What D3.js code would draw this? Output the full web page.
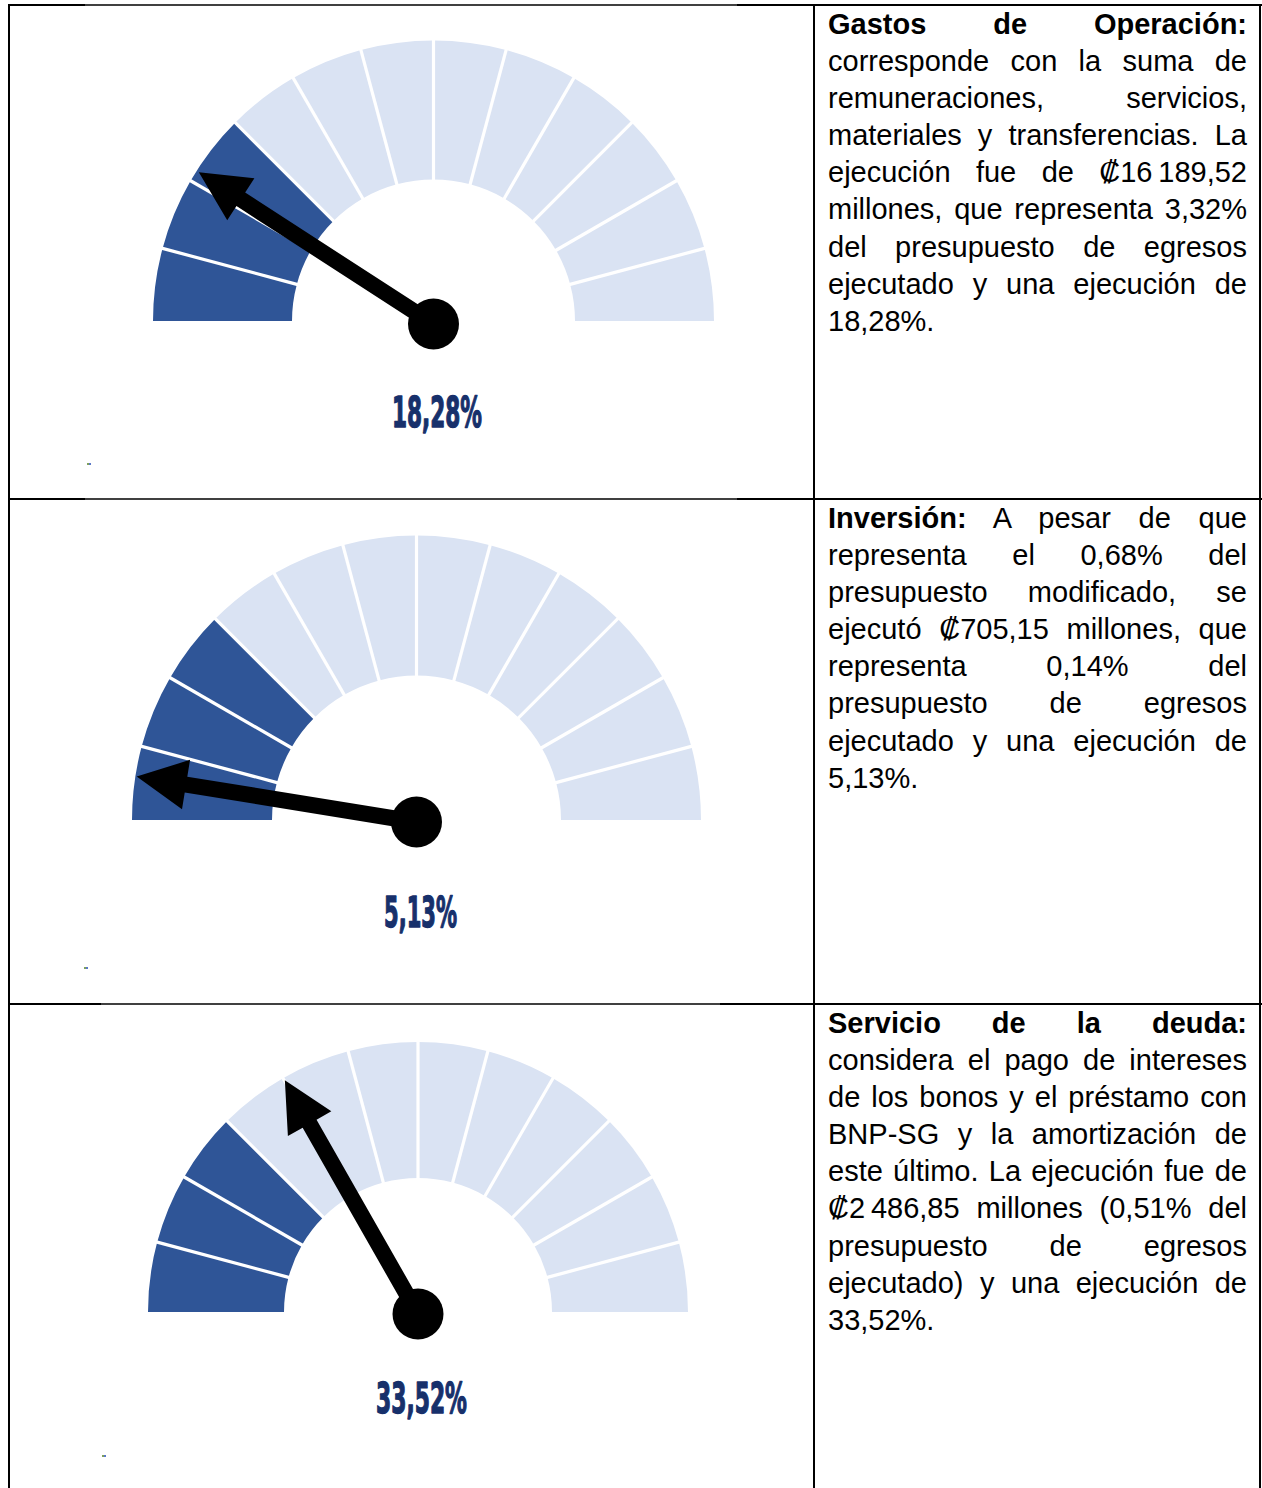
<!DOCTYPE html>
<html lang="es">
  <head>
    <meta charset="utf-8" />
    <title>Ejecución por partida</title>
    <script src="https://d3js.org/d3.v7.min.js"></script>
    <style type="text/css">
      body {
        margin: 0;
        background: #fff;
      }
      #page {
        position: relative;
        width: 1262px;
        height: 1488px;
        overflow: hidden;
      }
      #page svg {
        position: absolute;
        left: 0;
        top: 0;
      }
      .texto {
        position: absolute;
        left: 828px;
        width: 419px;
        font-family: "Liberation Sans", Arimo, Arial, sans-serif;
        font-size: 29px;
        line-height: 37.1px;
        color: #000;
      }
      .linea {
        text-align: justify;
        text-align-last: justify;
        height: 37.1px;
      }
      .linea.ultima {
        text-align-last: left;
      }
    </style>
  </head>
  <body>
    <div id="page"></div>
    <script type="text/javascript">
      // datos
      var categorias = ["Gastos de Operación", "Inversión", "Servicio de la deuda"];
      var ejecucion = [18.28, 5.13, 33.52];
      var etiquetas = ["18,28%", "5,13%", "33,52%"];
      var segmentos = 12;
      var segmentosLlenos = [3, 3, 3];

      // texto de la columna derecha, linea por linea (negrita, normal)
      var textos = [
        [
          ["Gastos de Operación:", ""],
          ["", "corresponde con la suma de"],
          ["", "remuneraciones, servicios,"],
          ["", "materiales y transferencias. La"],
          ["", "ejecución fue de ₡16\u2009189,52"],
          ["", "millones, que representa 3,32%"],
          ["", "del presupuesto de egresos"],
          ["", "ejecutado y una ejecución de"],
          ["", "18,28%."]
        ],
        [
          ["Inversión:", " A pesar de que"],
          ["", "representa el 0,68% del"],
          ["", "presupuesto modificado, se"],
          ["", "ejecutó ₡705,15 millones, que"],
          ["", "representa 0,14% del"],
          ["", "presupuesto de egresos"],
          ["", "ejecutado y una ejecución de"],
          ["", "5,13%."]
        ],
        [
          ["Servicio de la deuda:", ""],
          ["", "considera el pago de intereses"],
          ["", "de los bonos y el préstamo con"],
          ["", "BNP-SG y la amortización de"],
          ["", "este último. La ejecución fue de"],
          ["", "₡2\u2009486,85 millones (0,51% del"],
          ["", "presupuesto de egresos"],
          ["", "ejecutado) y una ejecución de"],
          ["", "33,52%."]
        ]
      ];

      // geometria de cada medidor
      var medidores = [
        { cx: 433.5, cy: 321, r0: 141.5, r1: 280.5, hy: 324, lx: 437, ly: 427, lw: 90, top: 6 },
        { cx: 416.5, cy: 820, r0: 144.5, r1: 284.5, hy: 822, lx: 420.5, ly: 927, lw: 73, top: 500 },
        { cx: 418, cy: 1312, r0: 134, r1: 270, hy: 1314, lx: 421.5, ly: 1413, lw: 91, top: 1005 }
      ];

      var oscuro = "#2f5597";
      var claro = "#dae3f3";

      var page = d3.select("#page");
      var svg = page.append("svg").attr("width", 1262).attr("height", 1488);

      // angulo de 0..100% hacia -90..90 grados (convencion d3.arc)
      var angulo = d3.scaleLinear().domain([0, 100]).range([-Math.PI / 2, Math.PI / 2]);
      var segScale = d3.scaleLinear().domain([0, segmentos]).range([-Math.PI / 2, Math.PI / 2]);

      medidores.forEach(function (m, k) {
        var g = svg.append("g").attr("class", "medidor");
        var arc = d3.arc().innerRadius(m.r0).outerRadius(m.r1);

        g.selectAll("path.seg")
          .data(d3.range(segmentos))
          .enter()
          .append("path")
          .attr("class", "seg")
          .attr("transform", "translate(" + m.cx + "," + m.cy + ")")
          .attr("d", function (i) {
            return arc({ startAngle: segScale(i), endAngle: segScale(i + 1) });
          })
          .attr("fill", function (i) {
            return i < segmentosLlenos[k] ? oscuro : claro;
          });

        // separadores blancos
        g.selectAll("line.sep")
          .data(d3.range(1, segmentos))
          .enter()
          .append("line")
          .attr("class", "sep")
          .attr("x1", function (i) { return m.cx + Math.sin(segScale(i)) * (m.r0 - 2); })
          .attr("y1", function (i) { return m.cy - Math.cos(segScale(i)) * (m.r0 - 2); })
          .attr("x2", function (i) { return m.cx + Math.sin(segScale(i)) * (m.r1 + 2); })
          .attr("y2", function (i) { return m.cy - Math.cos(segScale(i)) * (m.r1 + 2); })
          .attr("stroke", "#fff")
          .attr("stroke-width", 3.2);

        // aguja
        var L = m.r1 - 1, hl = 50, hw = 25, sw = 8;
        var pts = [
          [-sw, 0], [-sw, -(L - hl)], [-hw, -(L - hl)], [0, -L],
          [hw, -(L - hl)], [sw, -(L - hl)], [sw, 0]
        ];
        g.append("path")
          .attr("transform", "translate(" + m.cx + "," + m.hy + ") rotate(" +
            (angulo(ejecucion[k]) * 180 / Math.PI) + ")")
          .attr("d", d3.line()(pts) + "Z")
          .attr("fill", "#000");

        g.append("circle")
          .attr("cx", m.cx)
          .attr("cy", m.hy)
          .attr("r", 25.5)
          .attr("fill", "#000");

        g.append("text")
          .attr("x", m.lx)
          .attr("y", m.ly)
          .attr("text-anchor", "middle")
          .attr("font-family", "'Liberation Sans Narrow', 'DejaVu Sans Condensed', sans-serif")
          .attr("font-weight", "bold")
          .attr("font-size", 42)
          .attr("textLength", m.lw)
          .attr("lengthAdjust", "spacingAndGlyphs")
          .attr("fill", "#17306b")
          .attr("stroke", "#17306b")
          .attr("stroke-width", 1.3)
          .attr("stroke-linejoin", "round")
          .text(etiquetas[k]);
      });

      // pequeñas marcas de color bajo cada medidor
      var marcas = [[87, 463], [84, 967], [102, 1455]];
      marcas.forEach(function (p) {
        svg.append("rect").attr("x", p[0]).attr("y", p[1]).attr("width", 2).attr("height", 2).attr("fill", "#7fa05a");
        svg.append("rect").attr("x", p[0] + 2).attr("y", p[1]).attr("width", 2).attr("height", 2).attr("fill", "#5a78c8");
      });

      // bordes de la tabla
      var filas = [5, 499, 1004];
      var bordes = svg.append("g").attr("stroke", "#000");
      filas.forEach(function (y, i) {
        var a = i === 2 ? 101 : 85, b = i === 2 ? 720 : 737;
        bordes.append("line").attr("x1", 8).attr("x2", a).attr("y1", y).attr("y2", y).attr("stroke-width", 2);
        bordes.append("line").attr("x1", a).attr("x2", b).attr("y1", y).attr("y2", y).attr("stroke-width", 1.3);
        bordes.append("line").attr("x1", b).attr("x2", 1262).attr("y1", y).attr("y2", y).attr("stroke-width", 2);
      });
      [9, 814, 1260].forEach(function (x) {
        bordes.append("line").attr("x1", x).attr("x2", x).attr("y1", 4).attr("y2", 1488).attr("stroke-width", 2);
      });

      // texto
      textos.forEach(function (lineas, k) {
        var div = page.append("div")
          .attr("class", "texto")
          .style("top", (medidores[k].top) + "px");
        var l = div.selectAll("div.linea")
          .data(lineas)
          .enter()
          .append("div")
          .attr("class", function (d, i) {
            return "linea" + (i === lineas.length - 1 ? " ultima" : "");
          });
        l.each(function (d) {
          var s = d3.select(this);
          if (d[0]) s.append("b").text(d[0]);
          if (d[1]) s.append("span").text(d[1]);
        });
      });
    </script>
  </body>
</html>
